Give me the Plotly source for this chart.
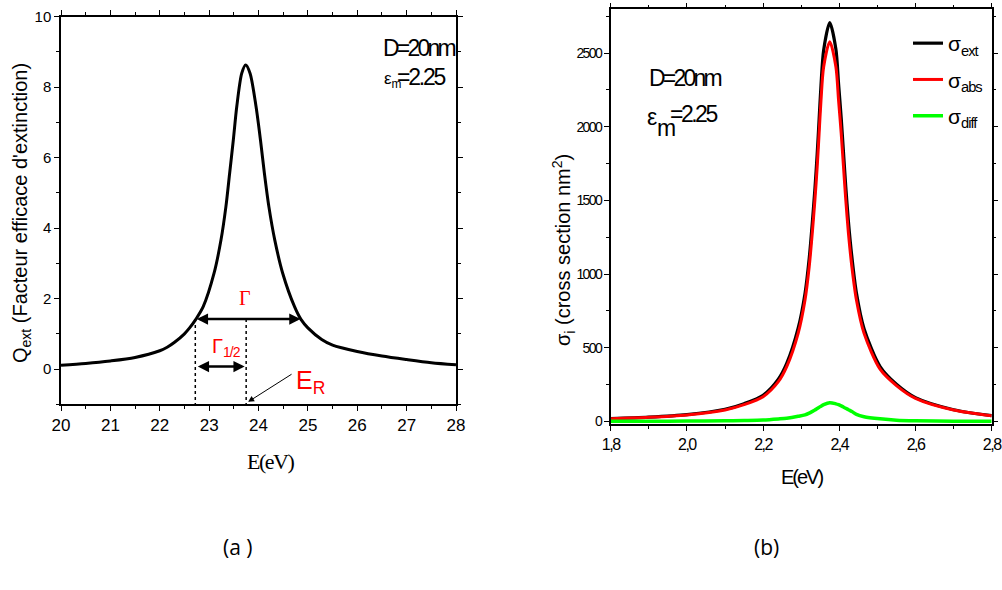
import plotly.graph_objects as go

# ---------------- (a) extinction efficiency, E axis labelled x10 ----------------
E_a = [20.0, 20.5, 21.0, 21.5, 22.0, 22.15, 22.3, 22.5, 22.6, 22.73, 22.88, 23.10, 23.24,
       23.34, 23.415, 23.49, 23.56, 23.66, 23.74, 23.83, 23.95, 24.04, 24.12, 24.21,
       24.33, 24.49, 24.73, 24.86, 25.0, 25.28, 25.5, 26.0, 26.5, 27.0, 27.5, 28.0]
Q_ext = [0.11, 0.16, 0.23, 0.33, 0.52, 0.62, 0.76, 1.00, 1.16, 1.41, 1.77, 2.72, 3.66,
         4.61, 5.55, 6.50, 7.45, 8.39, 8.63, 8.39, 7.45, 6.50, 5.55, 4.61,
         3.66, 2.72, 1.77, 1.41, 1.17, 0.84, 0.68, 0.50, 0.37, 0.27, 0.18, 0.12]

# width markers on panel (a)
gamma_bounds = [22.72, 24.85]     # full width edges
gamma_level = 1.42
half_bounds = [22.74, 23.72]      # half width edges
half_level = 0.07
E_R = 23.75                       # resonance energy
axis_floor_a = -1

# ---------------- (b) cross sections ----------------
E_b = [1.80, 1.90, 2.00, 2.10, 2.15, 2.20, 2.24, 2.262, 2.292, 2.310, 2.321, 2.329, 2.336,
       2.342, 2.347, 2.352, 2.359, 2.375, 2.391, 2.398, 2.405, 2.411, 2.417, 2.424,
       2.433, 2.445, 2.465, 2.507, 2.55, 2.60, 2.70, 2.80]
sigma_ext = [20, 30, 47, 83, 121, 178, 287, 394, 633, 869, 1107, 1345, 1581,
             1817, 2051, 2285, 2521, 2706, 2527, 2295, 2061, 1827, 1593, 1357,
             1118, 872, 630, 373, 253, 162, 80, 40]
sigma_abs = [19, 28, 44, 78, 114, 168, 270, 372, 598, 824, 1050, 1277, 1503,
             1729, 1955, 2181, 2407, 2577, 2407, 2181, 1955, 1729, 1503, 1277,
             1050, 824, 598, 355, 244, 157, 78, 39]
sigma_diff = [1, 2, 3, 5, 7, 10, 17, 22, 35, 45, 57, 68, 78,
              88, 96, 104, 114, 128, 120, 114, 106, 98, 90, 80,
              68, 48, 32, 18, 9, 5, 2, 1]

xticks_a = [20, 21, 22, 23, 24, 25, 26, 27, 28]
yticks_a = [0, 2, 4, 6, 8, 10]
xticks_b = [1.8, 2.0, 2.2, 2.4, 2.6, 2.8]
xlabels_b = ["1,8", "2,0", "2,2", "2,4", "2,6", "2,8"]
yticks_b = [0, 500, 1000, 1500, 2000, 2500]

SANS = "Liberation Sans, Arial, sans-serif"
SERIF = "Liberation Serif, Times New Roman, serif"
CAPTION = "Open Sans, sans-serif"

W, H = 1002, 590


def px(x):
    return x / W


def py(y):
    return 1 - y / H


def tight(s, sp):
    """Wrap text in a span with reduced letter spacing (condensed look)."""
    return f'<span style="letter-spacing:{sp}px">{s}</span>'


fig = go.Figure()

fig.add_trace(go.Scatter(x=E_a, y=Q_ext, mode="lines", xaxis="x", yaxis="y",
                         line=dict(color="black", width=3, shape="spline", smoothing=0.8),
                         showlegend=False, hoverinfo="skip"))

# dotted guides down to the axis
for xv in [gamma_bounds[0], E_R]:
    fig.add_trace(go.Scatter(x=[xv, xv], y=[gamma_level, axis_floor_a], mode="lines",
                             xaxis="x", yaxis="y",
                             line=dict(color="black", width=1.5, dash="dot"),
                             showlegend=False, hoverinfo="skip"))

fig.add_trace(go.Scatter(x=E_b, y=sigma_ext, mode="lines", xaxis="x2", yaxis="y2",
                         name="σ<sub>" + tight("ext", -1) + "</sub>", legendgroup="ext",
                         line=dict(color="black", width=3.2, shape="spline", smoothing=0.8)))
fig.add_trace(go.Scatter(x=E_b, y=sigma_abs, mode="lines", xaxis="x2", yaxis="y2",
                         name="σ<sub>" + tight("abs", -1) + "</sub>", legendgroup="abs",
                         line=dict(color="#ff0000", width=3, shape="spline", smoothing=0.8)))
fig.add_trace(go.Scatter(x=E_b, y=sigma_diff, mode="lines", xaxis="x2", yaxis="y2",
                         name="σ<sub>" + tight("diff", -1) + "</sub>", legendgroup="diff",
                         line=dict(color="#00ff00", width=3.5, shape="spline", smoothing=0.8)))

axis_common = dict(showline=True, linecolor="black", linewidth=1.5, mirror="ticks",
                   ticks="outside", ticklen=5, tickwidth=1.2, tickcolor="black",
                   showgrid=False, zeroline=False, automargin=False,
                   ticklabeloverflow="allow")

fig.update_layout(
    width=W, height=H,
    margin=dict(l=0, r=0, t=0, b=0, autoexpand=False),
    paper_bgcolor="white", plot_bgcolor="white",
    xaxis=dict(domain=[px(61), px(456)], range=[20, 28], anchor="y",
               tickvals=xticks_a, tickfont=dict(family=SANS, size=17, color="black"),
               minor=dict(dtick=0.5, tick0=20, ticks="outside", ticklen=3, tickcolor="black"),
               **axis_common),
    yaxis=dict(domain=[py(404.3), py(16.7)], range=[-1, 10], anchor="x",
               tickvals=yticks_a, tickfont=dict(family=SANS, size=15, color="black"),
               minor=dict(dtick=1, tick0=0, ticks="outside", ticklen=3, tickcolor="black"),
               **axis_common),
    xaxis2=dict(domain=[px(610.7), px(991.7)], range=[1.8, 2.8], anchor="y2",
                tickvals=xticks_b, ticktext=[tight(t, -1.5) for t in xlabels_b],
                tickfont=dict(family=SANS, size=16, color="black"),
                minor=dict(dtick=0.1, tick0=1.8, ticks="outside", ticklen=3, tickcolor="black"),
                **axis_common),
    yaxis2=dict(domain=[py(424.3), py(9.3)], range=[-19, 2797], anchor="x2",
                tickvals=yticks_b, ticktext=[tight(str(v), -1.6) for v in yticks_b],
                tickfont=dict(family=SANS, size=14, color="black"),
                minor=dict(dtick=250, tick0=0, ticks="outside", ticklen=3, tickcolor="black"),
                **axis_common),
    legend=dict(x=px(908), y=py(23), xanchor="left", yanchor="top",
                bgcolor="rgba(0,0,0,0)", borderwidth=0,
                font=dict(family=SANS, size=21, color="black"),
                tracegroupgap=6, itemwidth=30),
    showlegend=True,
)

annotations = []


def text(x, y, s, size, family=SANS, color="black", xref="paper", yref="paper",
         angle=0, xanchor="center", yanchor="middle"):
    annotations.append(dict(x=x, y=y, xref=xref, yref=yref, text=s, showarrow=False,
                            textangle=angle, xanchor=xanchor, yanchor=yanchor,
                            font=dict(family=family, size=size, color=color)))


# axis titles
text(px(22), py(213), "Q<sub>ext</sub> (Facteur efficace d'extinction)", 20, angle=-90)
text(px(270), py(461), tight("E(eV)", -1.5), 22, family=SERIF)
text(px(563), py(250), "σ<sub>i</sub> (cross section nm<sup>2</sup>)", 20, angle=-90)
text(px(802), py(477), tight("E(eV)", -2), 20)

# panel captions
text(px(238), py(547), "(a )", 21, family=CAPTION)
text(px(766), py(547), "(b)", 21, family=CAPTION)

# parameters, panel (a)
text(px(457), py(48), tight("D=20nm", -2.8), 23, xanchor="right")
text(px(382), py(80), "ε<sub>m</sub>", 17, xanchor="left")
text(px(448), py(77), tight("=2.25", -2.2), 23, xanchor="right")

# parameters, panel (b)
text(px(647), py(78), tight("D=20nm", -2.8), 23, xanchor="left")
text(px(645), py(117), "ε", 23, xanchor="left")
text(px(655), py(128), "m", 23, xanchor="left")
text(px(719), py(114), tight("=2.25", -2.5), 23, xanchor="right")

# width labels, panel (a)
text(23.73, 2.02, "Γ", 20, family=SERIF, color="red", xref="x", yref="y")
text(23.36, 0.62, "Γ<sub>" + tight("1/2", -1) + "</sub>", 20, family=SANS, color="red",
     xref="x", yref="y")
text(25.05, -0.36, "E<sub>R</sub>", 25, family=SANS, color="red", xref="x", yref="y")

# double-headed width arrows
for (x0, x1), lvl in [(gamma_bounds, gamma_level), (half_bounds, half_level)]:
    annotations.append(dict(x=x1, y=lvl, ax=x0, ay=lvl, xref="x", yref="y",
                            axref="x", ayref="y", text="", showarrow=True,
                            arrowhead=2, arrowside="end+start", arrowsize=0.9,
                            arrowwidth=2.5, arrowcolor="black", standoff=0, startstandoff=0))

# pointer to the resonance energy
annotations.append(dict(x=E_R + 0.04, y=-0.93, ax=24.70, ay=-0.12, xref="x", yref="y",
                        axref="x", ayref="y", text="", showarrow=True,
                        arrowhead=2, arrowsize=1.2, arrowwidth=1, arrowcolor="black"))

fig.update_layout(annotations=annotations)

fig.write_html("out.html")
